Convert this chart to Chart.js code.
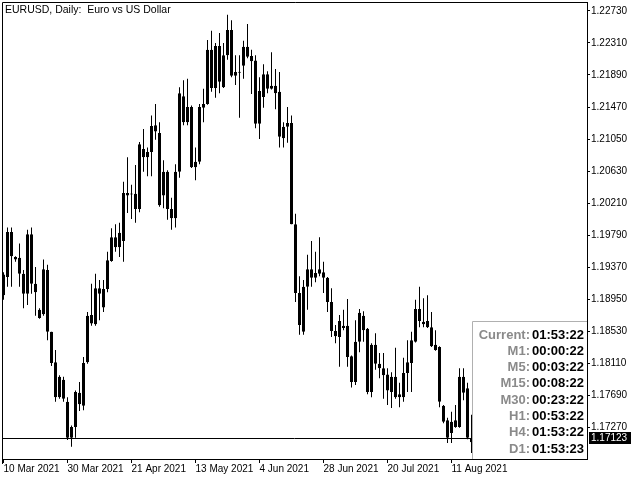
<!DOCTYPE html>
<html>
<head>
<meta charset="utf-8">
<script src="https://cdn.jsdelivr.net/npm/chart.js@4"></script>
<style>
  html, body { margin: 0; padding: 0; background: #fff; }
  canvas { display: block; }
</style>
</head>
<body>
<canvas id="myChart" width="640" height="480"></canvas>
<script>
const title = 'EURUSD, Daily:  Euro vs US Dollar';

// bar index of each date label, 16 daily bars apart
const tickBars = [0, 16, 32, 48, 64, 80, 96, 112];
const tickLabels = ['10 Mar 2021', '30 Mar 2021', '21 Apr 2021', '13 May 2021',
  '4 Jun 2021', '28 Jun 2021', '20 Jul 2021', '11 Aug 2021'];

const priceTicks = [1.17270, 1.17690, 1.18110, 1.18530, 1.18950, 1.19370, 1.19790,
  1.20210, 1.20630, 1.21050, 1.21470, 1.21890, 1.22310, 1.22730];

const opens = [
  1.1900, 1.1924, 1.1983, 1.1947, 1.1949, 1.1928, 1.1902, 1.1980, 1.1915, 1.1870,
  1.1875, 1.1933, 1.1852, 1.1812, 1.1766, 1.1789, 1.1760, 1.1713, 1.1727, 1.1772,
  1.1755, 1.1812, 1.1874, 1.1862, 1.1909, 1.1884, 1.1908, 1.1945, 1.1976, 1.1963,
  1.1971, 1.2034, 1.2032, 1.2033, 1.2013, 1.2092, 1.2081, 1.2088, 1.2123, 1.2113,
  1.2031, 1.2062, 1.2013, 1.2001, 1.2062, 1.2161, 1.2127, 1.2147, 1.2068, 1.2075,
  1.2146, 1.2151, 1.2222, 1.2172, 1.2227, 1.2173, 1.2215, 1.2248, 1.2188, 1.2193,
  1.2201, 1.2226, 1.2214, 1.2208, 1.2125, 1.2160, 1.2190, 1.2171, 1.2175, 1.2167,
  1.2106, 1.2121, 1.2126, 1.1993, 1.1903, 1.1852, 1.1911, 1.1934, 1.1923, 1.1928,
  1.1930, 1.1923, 1.1891, 1.1853, 1.1845, 1.1860, 1.1860, 1.1820, 1.1786, 1.1839,
  1.1873, 1.1856, 1.1773, 1.1835, 1.1810, 1.1804, 1.1796, 1.1773, 1.1793, 1.1766,
  1.1766, 1.1798, 1.1811, 1.1839, 1.1882, 1.1862, 1.1866, 1.1858, 1.1835, 1.1832,
  1.1755, 1.1736, 1.1719, 1.1727, 1.1727, 1.1793, 1.1778, 1.1707
];
const highs = [
  1.1930, 1.1989, 1.1989, 1.1951, 1.1968, 1.1933, 1.1986, 1.1989, 1.1937, 1.1883,
  1.1947, 1.1940, 1.1852, 1.1828, 1.1795, 1.1793, 1.1766, 1.1729, 1.1775, 1.1786,
  1.1819, 1.1878, 1.1915, 1.1928, 1.1920, 1.1920, 1.1957, 1.1988, 1.1993, 1.1995,
  1.2049, 1.2081, 1.2045, 1.2071, 1.2101, 1.2118, 1.2094, 1.2136, 1.2151, 1.2127,
  1.2077, 1.2064, 1.2028, 1.2072, 1.2173, 1.2182, 1.2184, 1.2149, 1.2094, 1.2151,
  1.2171, 1.2235, 1.2247, 1.2231, 1.2244, 1.2231, 1.2268, 1.2261, 1.2215, 1.2215,
  1.2234, 1.2256, 1.2222, 1.2215, 1.2186, 1.2203, 1.2194, 1.2219, 1.2197, 1.2193,
  1.2127, 1.2147, 1.2136, 1.2007, 1.1925, 1.1920, 1.1953, 1.1971, 1.1957, 1.1976,
  1.1944, 1.1924, 1.1909, 1.1861, 1.1874, 1.1881, 1.1895, 1.1821, 1.1867, 1.1882,
  1.1879, 1.1857, 1.1837, 1.1850, 1.1824, 1.1824, 1.1804, 1.1799, 1.1831, 1.1785,
  1.1818, 1.1841, 1.1852, 1.1894, 1.1911, 1.1896, 1.1900, 1.1878, 1.1854, 1.1833,
  1.1756, 1.1739, 1.1747, 1.1756, 1.1804, 1.1804, 1.1785, 1.1743
];
const lows = [
  1.1894, 1.1911, 1.1911, 1.1944, 1.1911, 1.1883, 1.1887, 1.1902, 1.1873, 1.1869,
  1.1873, 1.1841, 1.1807, 1.1760, 1.1764, 1.1760, 1.1710, 1.1701, 1.1713, 1.1748,
  1.1749, 1.1810, 1.1860, 1.1860, 1.1867, 1.1878, 1.1904, 1.1944, 1.1957, 1.1950,
  1.1944, 1.2008, 1.2000, 1.1995, 1.2009, 1.2062, 1.2056, 1.2056, 1.2104, 1.2016,
  1.2014, 1.1999, 1.1986, 1.1989, 1.2054, 1.2123, 1.2123, 1.2067, 1.2051, 1.2072,
  1.2127, 1.2150, 1.2167, 1.2159, 1.2165, 1.2172, 1.2209, 1.2186, 1.2176, 1.2133,
  1.2184, 1.2211, 1.2164, 1.2119, 1.2105, 1.2146, 1.2165, 1.2170, 1.2144, 1.2094,
  1.2094, 1.2100, 1.1993, 1.1891, 1.1848, 1.1848, 1.1881, 1.1911, 1.1917, 1.1925,
  1.1903, 1.1878, 1.1845, 1.1837, 1.1806, 1.1854, 1.1806, 1.1779, 1.1782, 1.1825,
  1.1839, 1.1770, 1.1766, 1.1802, 1.1791, 1.1764, 1.1756, 1.1752, 1.1764, 1.1753,
  1.1760, 1.1773, 1.1773, 1.1838, 1.1858, 1.1858, 1.1857, 1.1832, 1.1827, 1.1753,
  1.1732, 1.1706, 1.1706, 1.1726, 1.1726, 1.1762, 1.1711, 1.1693
];
const closes = [
  1.1927, 1.1983, 1.1951, 1.1950, 1.1928, 1.1902, 1.1980, 1.1915, 1.1904, 1.1881,
  1.1934, 1.1852, 1.1811, 1.1766, 1.1793, 1.1764, 1.1713, 1.1727, 1.1773, 1.1757,
  1.1811, 1.1873, 1.1863, 1.1909, 1.1902, 1.1908, 1.1946, 1.1976, 1.1963, 1.1982,
  1.2034, 1.2031, 1.2033, 1.2013, 1.2098, 1.2081, 1.2088, 1.2122, 1.2115, 1.2018,
  1.2062, 1.2013, 1.2001, 1.2062, 1.2165, 1.2127, 1.2147, 1.2068, 1.2075, 1.2147,
  1.2151, 1.2222, 1.2172, 1.2227, 1.2180, 1.2215, 1.2248, 1.2188, 1.2193, 1.2192,
  1.2226, 1.2213, 1.2207, 1.2125, 1.2168, 1.2190, 1.2171, 1.2175, 1.2165, 1.2108,
  1.2121, 1.2126, 1.1993, 1.1903, 1.1861, 1.1911, 1.1934, 1.1923, 1.1929, 1.1934,
  1.1923, 1.1891, 1.1853, 1.1846, 1.1866, 1.1857, 1.1819, 1.1786, 1.1839, 1.1877,
  1.1854, 1.1773, 1.1835, 1.1810, 1.1804, 1.1795, 1.1775, 1.1793, 1.1766, 1.1770,
  1.1798, 1.1812, 1.1841, 1.1882, 1.1866, 1.1865, 1.1858, 1.1833, 1.1828, 1.1760,
  1.1734, 1.1713, 1.1734, 1.1736, 1.1793, 1.1772, 1.1713, 1.17123
];

const bid = 1.17123;
const infoLabels = ['Current:', 'M1:', 'M5:', 'M15:', 'M30:', 'H1:', 'H4:', 'D1:'];
const infoValues = ['01:53:22', '00:00:22', '00:03:22', '00:08:22', '00:23:22', '00:53:22', '01:53:22', '01:53:23'];

const axisFont = '"Liberation Sans", Arial, sans-serif';
const idx = opens.map((v, i) => i);

// scales keep no label padding, so the plot box is exactly where it is asked
function noPad(s) {
  s.paddingLeft = 0; s.paddingRight = 0; s.paddingTop = 0; s.paddingBottom = 0;
}

// title, bid line, price tag, timer box and the chart frame
const overlay = {
  id: 'overlay',
  afterDatasetsDraw(chart) {
    const c = chart.ctx, a = chart.chartArea;
    const py = Math.round(chart.scales.y.getPixelForValue(bid)) + 0.5;
    c.save();
    c.strokeStyle = '#000';
    c.lineWidth = 1;
    c.beginPath();
    c.moveTo(a.left, py);
    c.lineTo(a.right, py);
    c.stroke();
    c.restore();
  },
  afterDraw(chart) {
    const c = chart.ctx, a = chart.chartArea;
    const py = Math.round(chart.scales.y.getPixelForValue(bid));
    c.save();
    // frame
    c.strokeStyle = '#000';
    c.lineWidth = 1;
    c.beginPath();
    c.moveTo(2.5, 464);
    c.lineTo(2.5, 2.5);
    c.lineTo(a.right + 1, 2.5);
    c.stroke();

    // title
    c.fillStyle = '#000';
    c.font = '10.5px ' + axisFont;
    c.textBaseline = 'middle';
    c.textAlign = 'left';
    c.fillText(title, 5, 10);

    // timer box
    c.fillStyle = '#fff';
    c.fillRect(473, 322, a.right - 473, a.bottom - 322);
    c.strokeStyle = '#b0b0b0';
    c.beginPath();
    c.moveTo(472.5, a.bottom);
    c.lineTo(472.5, 321.5);
    c.lineTo(a.right, 321.5);
    c.stroke();
    c.font = 'bold 13px ' + axisFont;
    infoLabels.forEach((t, i) => {
      const ty = 335 + i * 16.3;
      c.textAlign = 'right';
      c.fillStyle = '#8a8a8a';
      c.fillText(t, 530, ty);
      c.fillStyle = '#000';
      c.fillText(infoValues[i], 584, ty);
    });

    // price tag on the axis
    c.fillStyle = '#000';
    c.fillRect(589, py - 6, 42, 12);
    c.fillStyle = '#fff';
    c.font = '10px ' + axisFont;
    c.textAlign = 'left';
    c.fillText(bid.toFixed(5), 591, py + 0.5);
    c.restore();
  }
};

new Chart(document.getElementById('myChart').getContext('2d'), {
  type: 'bar',
  data: {
    datasets: [{
      label: 'wick',
      data: idx.map(i => ({ x: i, y: [lows[i], highs[i]] })),
      backgroundColor: '#000',
      borderWidth: 0,
      barThickness: 1,
      minBarLength: 1,
      inflateAmount: 0,
      grouped: false
    }, {
      label: 'body',
      data: idx.map(i => ({ x: i, y: [opens[i], closes[i]] })),
      backgroundColor: idx.map(i => closes[i] >= opens[i] ? '#fff' : '#000'),
      borderColor: '#000',
      borderWidth: 1,
      borderSkipped: false,
      barThickness: 3,
      minBarLength: 1,
      inflateAmount: 0,
      grouped: false
    }]
  },
  options: {
    responsive: false,
    animation: false,
    layout: { padding: { left: 2, top: 3, right: 0, bottom: 0 } },
    plugins: { legend: { display: false }, tooltip: { enabled: false } },
    scales: {
      x: {
        type: 'linear',
        offset: false,
        min: -0.375,
        max: 145.875,
        bounds: 'data',
        afterFit: s => { s.height = 21; noPad(s); },
        afterBuildTicks: s => { s.ticks = tickBars.map(v => ({ value: v })); },
        grid: { offset: false, drawOnChartArea: false, drawTicks: true, tickLength: 4, color: '#000' },
        border: { display: true, color: '#000' },
        ticks: {
          align: 'start', maxRotation: 0, autoSkip: false, padding: 0, color: '#000',
          font: { family: axisFont, size: 10 },
          callback: (v, i) => tickLabels[i]
        }
      },
      y: {
        position: 'right',
        min: 1.16850,
        max: 1.22835,
        bounds: 'data',
        afterFit: s => { s.width = 53; noPad(s); },
        afterBuildTicks: s => { s.ticks = priceTicks.map(v => ({ value: v })); },
        grid: { drawOnChartArea: false, drawTicks: true, tickLength: 3, color: '#000' },
        border: { display: true, color: '#000' },
        ticks: {
          padding: 1, color: '#000',
          font: { family: axisFont, size: 10 },
          callback: v => v.toFixed(5)
        }
      }
    }
  },
  plugins: [overlay]
});
</script>
</body>
</html>
